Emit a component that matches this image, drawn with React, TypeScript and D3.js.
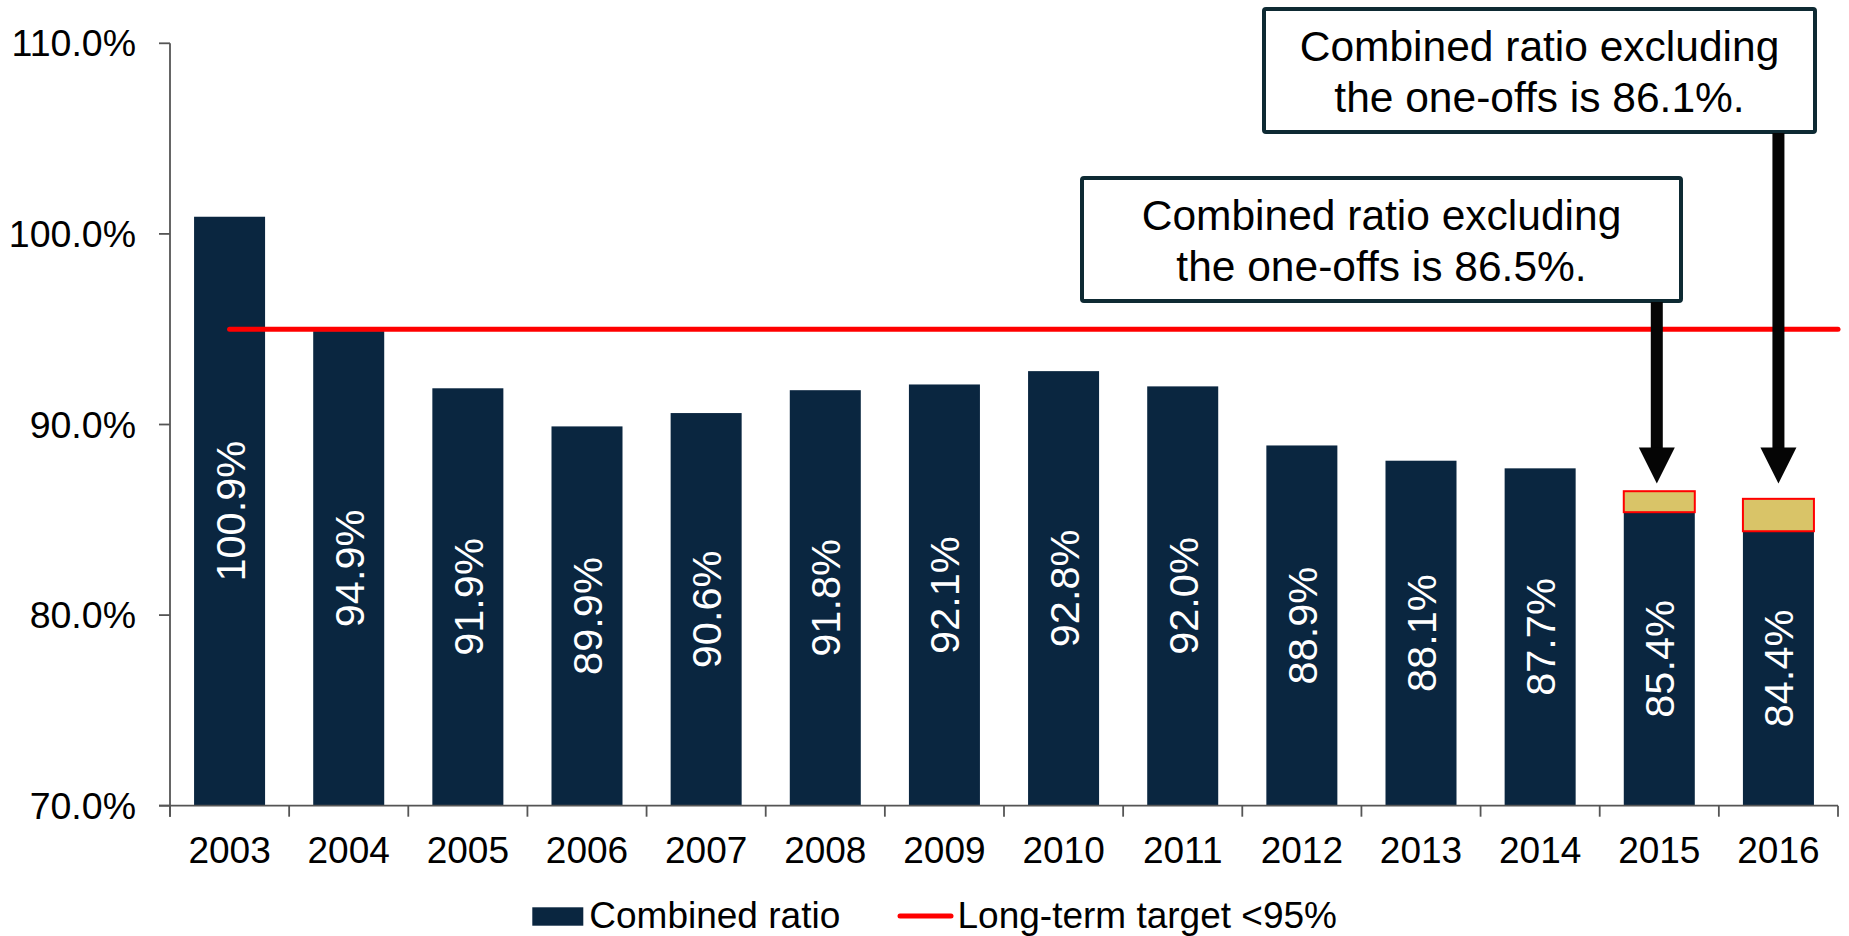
import React from "react";
import * as d3 from "d3";

const years = ["2003","2004","2005","2006","2007","2008","2009","2010","2011","2012","2013","2014","2015","2016"];
const combinedRatio = [100.9, 94.9, 91.9, 89.9, 90.6, 91.8, 92.1, 92.8, 92.0, 88.9, 88.1, 87.7, 85.4, 84.4];
const oneOffYears = ["2015", "2016"];
const exclOneOffs = [86.5, 86.1];
const targetValue = 95;
const yTicks = [70, 80, 90, 100, 110];
const annotationLines = [
  ["Combined ratio excluding", "the one-offs is 86.5%."],
  ["Combined ratio excluding", "the one-offs is 86.1%."],
];
const legendLabels = ["Combined ratio", "Long-term target <95%"];

const W = 1849;
const H = 936;
const FONT = "'Liberation Sans', Arial, Helvetica, sans-serif";
const NAVY = "#0A2640";
const GOLD = "#D9C468";
const RED = "#FF0000";
const AXIS = "#555555";
const BOXBORDER = "#0E2A33";

export default function App() {
  const x = d3.scaleBand<string>().domain(years).range([170, 1838]).paddingInner(0.404).paddingOuter(0.202);
  const y = d3.scaleLinear().domain([70, 110]).range([805.7, 43.3]);
  const step = x.step();
  const boundaries = d3.range(years.length + 1).map((i) => 170 + i * step);
  const cx = (yr: string) => (x(yr) as number) + x.bandwidth() / 2;
  const fmt = (v: number) => d3.format(".1f")(v) + "%";

  // annotation boxes (layout) and arrow anchors
  const boxes = [
    { x0: 1080, y0: 176, x1: 1683, y1: 303, year: "2015" },
    { x0: 1262, y0: 7, x1: 1817, y1: 134, year: "2016" },
  ];
  const arrowTipValue = 86.9;
  const headH = 36;
  const headW = 36;
  const shaftW = 12;

  return (
    <svg width={W} height={H} style={{ position: "absolute", left: 0, top: 0, display: "block", background: "#fff" }} fontFamily={FONT}>
      {/* bars */}
      {years.map((yr, i) => (
        <rect key={yr} x={x(yr)} y={y(combinedRatio[i])} width={x.bandwidth()} height={y(70) - y(combinedRatio[i])} fill={NAVY} />
      ))}
      {/* one-off segments */}
      {oneOffYears.map((yr, i) => {
        const base = combinedRatio[years.indexOf(yr)];
        return (
          <rect key={yr} x={(x(yr) as number)} y={y(exclOneOffs[i])} width={x.bandwidth()} height={y(base) - y(exclOneOffs[i])} fill={GOLD} stroke={RED} strokeWidth={2} />
        );
      })}
      {/* target line */}
      <line x1={cx(years[0])} x2={1838} y1={y(targetValue)} y2={y(targetValue)} stroke={RED} strokeWidth={5} strokeLinecap="round" />
      {/* y axis */}
      <line x1={170} x2={170} y1={y(110)} y2={y(70) + 11} stroke={AXIS} strokeWidth={1.8} />
      {yTicks.map((t) => (
        <g key={t}>
          <line x1={159} x2={170} y1={y(t)} y2={y(t)} stroke={AXIS} strokeWidth={1.8} />
          <text x={136} y={y(t)} dy="0.35em" textAnchor="end" fontSize={37.5} fill="#000">{fmt(t)}</text>
        </g>
      ))}
      {/* x axis */}
      <line x1={159} x2={1838} y1={y(70)} y2={y(70)} stroke={AXIS} strokeWidth={1.8} />
      {boundaries.map((b, i) => (
        <line key={i} x1={b} x2={b} y1={y(70)} y2={y(70) + 11} stroke={AXIS} strokeWidth={1.8} />
      ))}
      {years.map((yr) => (
        <text key={yr} x={cx(yr)} y={863.3} textAnchor="middle" fontSize={37} fill="#000">{yr}</text>
      ))}
      {/* bar labels */}
      {years.map((yr, i) => {
        const mid = (y(combinedRatio[i]) + y(70)) / 2;
        const c = cx(yr);
        return (
          <text key={yr} transform={`translate(${c},${mid}) rotate(-90)`} textAnchor="middle" dy="0.36em" fontSize={41.5} fill="#fff">{fmt(combinedRatio[i])}</text>
        );
      })}
      {/* annotation boxes */}
      {boxes.map((b, i) => {
        const mx = (b.x0 + b.x1) / 2;
        return (
          <g key={i}>
            <rect x={b.x0 + 2} y={b.y0 + 2} width={b.x1 - b.x0 - 4} height={b.y1 - b.y0 - 4} fill="#fff" stroke={BOXBORDER} strokeWidth={4} rx={2} />
            <text x={mx} y={b.y0 + 54} textAnchor="middle" fontSize={42.5} fill="#000">{annotationLines[i][0]}</text>
            <text x={mx} y={b.y0 + 104.7} textAnchor="middle" fontSize={42.5} fill="#000">{annotationLines[i][1]}</text>
          </g>
        );
      })}
      {/* arrows */}
      {boxes.map((b, i) => {
        const ax = cx(b.year) - (b.year === "2015" ? 2.5 : 0);
        const tip = y(arrowTipValue);
        const headTop = tip - headH;
        return (
          <g key={"a" + i} fill="#050505">
            <rect x={ax - shaftW / 2} y={b.y1 - 1} width={shaftW} height={headTop - b.y1 + 2} />
            <path d={`M${ax - headW / 2},${headTop} L${ax + headW / 2},${headTop} L${ax},${tip} Z`} />
          </g>
        );
      })}
      {/* legend */}
      <rect x={532.3} y={907.3} width={51} height={18.4} fill={NAVY} />
      <text x={589.3} y={928.3} fontSize={37} fill="#000">{legendLabels[0]}</text>
      <line x1={900} x2={951} y1={916} y2={916} stroke={RED} strokeWidth={5} strokeLinecap="round" />
      <text x={957.5} y={928.3} fontSize={37} fill="#000">{legendLabels[1]}</text>
    </svg>
  );
}
